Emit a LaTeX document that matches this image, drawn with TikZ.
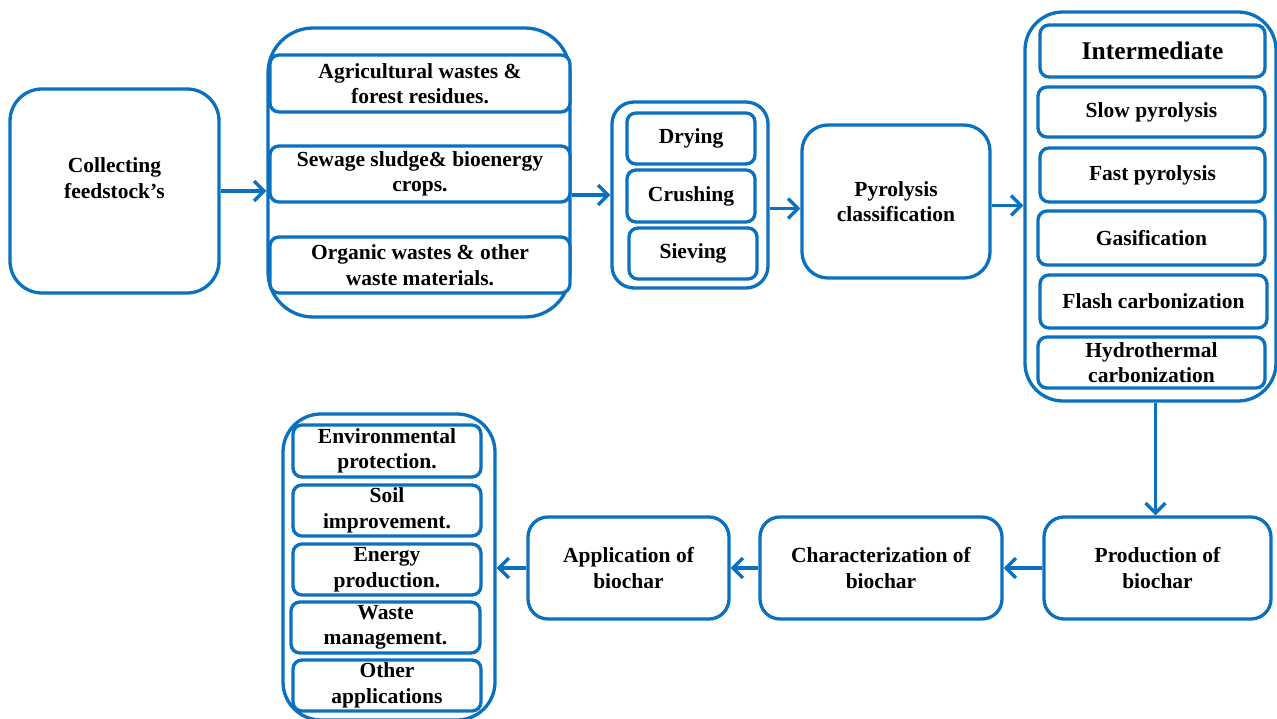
\documentclass[tikz,border=0pt]{standalone}
\usepackage{fontspec}
\setmainfont{Liberation Serif}
\usetikzlibrary{arrows.meta}
\definecolor{bblue}{HTML}{0A70C0}
\begin{document}
\begin{tikzpicture}[x=1pt,y=-1pt,
  box/.style={draw=bblue, line width=3.3pt, rounded corners=#1, fill=white,
    align=center, inner sep=0pt, font=\fontsize{21.5}{25.5}\selectfont\bfseries},
  box/.default=9pt,
  arr/.style={draw=bblue, line width=3.3pt, -{Straight Barb[length=10pt,width=20pt,line width=3.3pt]}}]
\useasboundingbox (0,0) rectangle (1277,719);
% row 1
\node[box=32pt, minimum width=209pt, minimum height=204pt] (collect) at (114.5,191) {Collecting\\feedstock’s\\\mbox{}};
\node[box=45pt, minimum width=302pt, minimum height=289pt] (feedgroup) at (419,172.5) {};
\node[box, minimum width=300pt, minimum height=57pt] (agri) at (420,83.5) {Agricultural wastes \&\\forest residues.};
\node[box, minimum width=300pt, minimum height=56pt] (sewage) at (420,174) {Sewage sludge\& bioenergy\\crops.};
\node[box, minimum width=300pt, minimum height=56pt] (organic) at (420,265) {Organic wastes \& other\\waste materials.};
\node[box=22pt, minimum width=156pt, minimum height=186pt] (prep) at (690,195) {};
\node[box, minimum width=128pt, minimum height=51pt] (drying) at (691,138.5) {\raisebox{-2pt}{Drying}};
\node[box, minimum width=128pt, minimum height=52pt] (crushing) at (691,196) {\raisebox{-2pt}{Crushing}};
\node[box, minimum width=128pt, minimum height=51pt] (sieving) at (693,253.5) {\raisebox{-2pt}{Sieving}};
\node[box=26pt, minimum width=188pt, minimum height=153pt] (pyro) at (896,201.5) {Pyrolysis\\classification};
\node[box=38pt, minimum width=251pt, minimum height=389pt] (pyrogroup) at (1150.5,206.5) {};
\node[box, minimum width=225pt, minimum height=52pt, font=\fontsize{25.5}{28}\selectfont\bfseries] (inter) at (1152.5,51) {Intermediate};
\node[box, minimum width=227pt, minimum height=50pt] (slow) at (1151.5,112) {\raisebox{-2pt}{Slow pyrolysis}};
\node[box, minimum width=225pt, minimum height=54pt] (fast) at (1152.5,175) {\raisebox{-2pt}{Fast pyrolysis}};
\node[box, minimum width=227pt, minimum height=54pt] (gas) at (1151.5,238) {Gasification};
\node[box, minimum width=227pt, minimum height=53pt] (flash) at (1153.5,301.5) {Flash carbonization};
\node[box, minimum width=227pt, minimum height=51pt] (hydro) at (1151.5,362.5) {Hydrothermal\\carbonization};
% row 2
\node[box=20pt, minimum width=227pt, minimum height=102pt] (prod) at (1157.5,568) {Production of\\biochar};
\node[box=20pt, minimum width=242pt, minimum height=102pt] (char) at (881,568) {Characterization of\\biochar};
\node[box=20pt, minimum width=201pt, minimum height=102pt] (app) at (628.5,568) {Application of\\biochar};
\node[box=38pt, minimum width=212pt, minimum height=306pt] (appgroup) at (389,567) {};
\node[box, minimum width=188pt, minimum height=52pt] (env) at (387,451) {Environmental\\protection.};
\node[box, minimum width=188pt, minimum height=51pt] (soil) at (387,510.5) {Soil\\improvement.};
\node[box, minimum width=188pt, minimum height=51pt] (energy) at (387,569.5) {Energy\\production.};
\node[box, minimum width=189pt, minimum height=51pt] (waste) at (385.5,627.5) {Waste\\management.};
\node[box, minimum width=188pt, minimum height=51pt] (other) at (387,685.5) {Other\\applications};
% connectors
\draw[arr] (collect.east) -- (collect.east -| feedgroup.west);
\draw[arr] (prep.west -| feedgroup.east) -- (prep.west);
\draw[arr] ([yshift=-7pt]pyro.west -| prep.east) -- ([yshift=-7pt]pyro.west);
\draw[arr] ([yshift=-4pt]pyro.east) -- ([yshift=-4pt]pyro.east -| pyrogroup.west);
\draw[arr] ([xshift=-2pt]prod.north |- pyrogroup.south) -- ([xshift=-2pt]prod.north);
\draw[arr] (prod.west) -- (char.east);
\draw[arr] (char.west) -- (app.east);
\draw[arr] (app.west) -- (app.west -| appgroup.east);
\end{tikzpicture}
\end{document}
